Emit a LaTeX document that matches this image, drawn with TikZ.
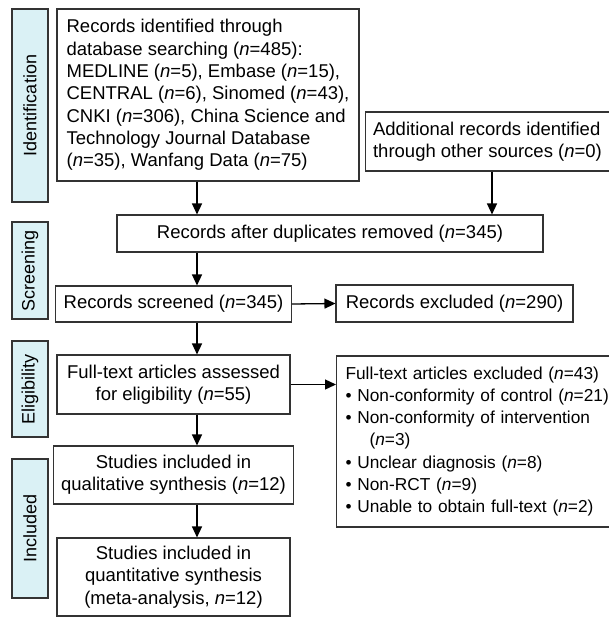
\documentclass[tikz,border=0pt]{standalone}
\usepackage{fontspec}
\setmainfont{Liberation Sans}
\usetikzlibrary{arrows.meta}
\definecolor{labfill}{HTML}{DAF1F5}
\definecolor{edge}{HTML}{333333}
\begin{document}
\begin{tikzpicture}[x=1pt,y=1pt,
  txt/.style={font=\fontsize{18.5}{22.3}\selectfont},
  box/.style={txt, draw=edge, line width=1.1pt, inner xsep=8pt, inner ysep=0pt, fill=white},
  lab/.style={font=\fontsize{18}{22}\selectfont, draw=edge, line width=1.1pt, fill=labfill, rotate=90, inner sep=0pt, minimum height=36pt},
  arr/.style={line width=1.3pt, -{Triangle[length=11pt,width=10pt]}}
]
\useasboundingbox (0,0) rectangle (609,-618);

% stage labels
\node[lab, minimum width=193pt] (lid) at (30,-105.5) {Identification};
\node[lab, minimum width=97pt] (lsc) at (30,-270.5) {Screening};
\node[lab, minimum width=96pt] (lel) at (30,-389) {Eligibility};
\node[lab, minimum width=139pt] (lin) at (30,-528.5) {Included};

% boxes
\node[box, minimum width=302pt, minimum height=172pt, align=left] (db) at (208,-95)
 {Records identified through\\database searching (\textit{n}=485):\\MEDLINE (\textit{n}=5), Embase (\textit{n}=15),\\CENTRAL (\textit{n}=6), Sinomed (\textit{n}=43),\\CNKI (\textit{n}=306), China Science and\\Technology Journal Database\\(\textit{n}=35), Wanfang Data (\textit{n}=75)};

\node[box, minimum width=241pt, minimum height=59pt, align=left] (add) at (487.5,-141.5)
 {Additional records identified\\through other sources (\textit{n}=0)};

\node[box, minimum width=426pt, minimum height=37pt, align=center] (dup) at (330,-233.5)
 {Records after duplicates removed (\textit{n}=345)};

\node[box, minimum width=233pt, minimum height=36pt, align=center] (scr) at (173.5,-304)
 {Records screened (\textit{n}=345)};

\node[box, minimum width=237pt, minimum height=37pt, align=center] (rex) at (454.5,-303.5)
 {Records excluded (\textit{n}=290)};

\node[box, minimum width=233pt, minimum height=59pt, align=center] (ft) at (173.5,-384.5)
 {Full-text articles assessed\\for eligibility (\textit{n}=55)};

\node[box, font=\fontsize{17.3}{22.2}\selectfont, anchor=west, inner xsep=9pt, minimum height=171pt, text width=272pt, align=left] (fex) at (336,-441.5)
 {Full-text articles excluded (\textit{n}=43)\\
 \textbullet~Non-conformity of control (\textit{n}=21)\\
 \textbullet~Non-conformity of intervention\\
 \hspace*{24pt}(\textit{n}=3)\\
 \textbullet~Unclear diagnosis (\textit{n}=8)\\
 \textbullet~Non-RCT (\textit{n}=9)\\
 \textbullet~Unable to obtain full-text (\textit{n}=2)};

\node[box, minimum width=233pt, minimum height=58pt, align=center] (qual) at (173.5,-475)
 {Studies included in\\qualitative synthesis (\textit{n}=12)};

\node[box, minimum width=233pt, minimum height=78pt, align=center] (quant) at (173.5,-577)
 {Studies included in\\quantitative synthesis\\(meta-analysis, \textit{n}=12)};

% connectors
\coordinate (ax) at (197,0);
\coordinate (bx) at (492,0);
\draw[arr] (db.south -| ax) -- (dup.north -| ax);
\draw[arr] (add.south -| bx) -- (dup.north -| bx);
\draw[arr] (dup.south -| ax) -- (scr.north -| ax);
\draw[arr] (scr.south -| ax) -- (ft.north -| ax);
\draw[arr] (ft.south -| ax) -- (qual.north -| ax);
\draw[arr] (qual.south -| ax) -- (quant.north -| ax);
\draw[arr] (scr.east) -- (rex.west);
\draw[arr] (ft.east) -- (ft.east -| fex.west);
\end{tikzpicture}
\end{document}
